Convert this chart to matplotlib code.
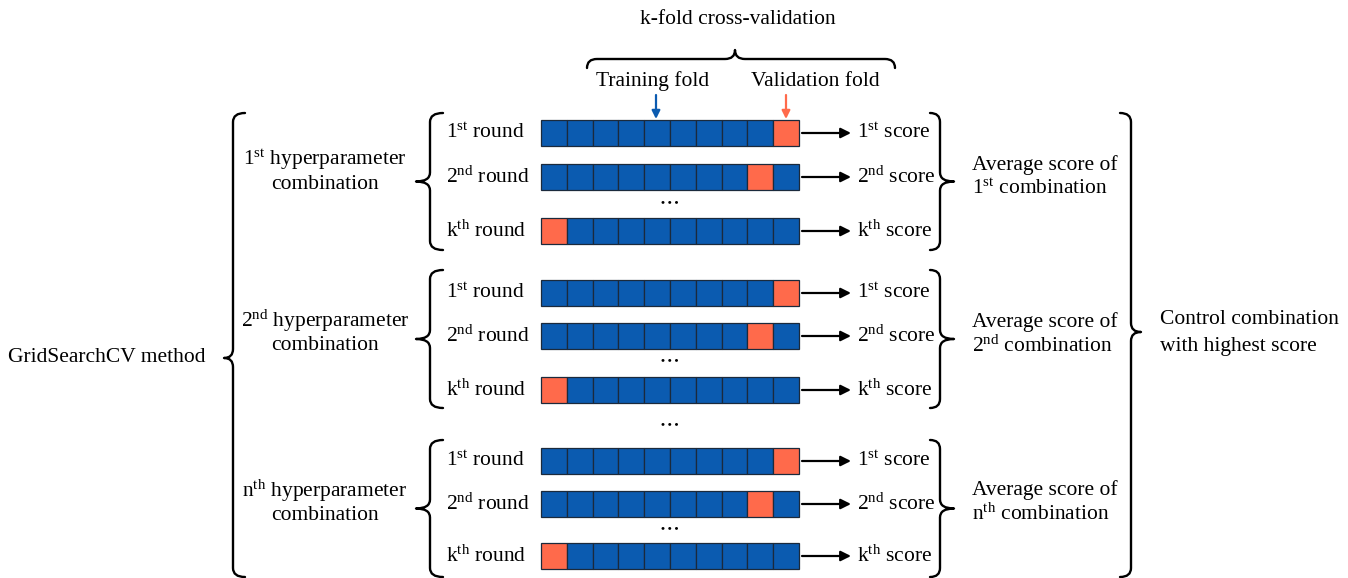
import matplotlib
matplotlib.use('Agg')
import matplotlib.pyplot as plt
from matplotlib.path import Path
from matplotlib.patches import PathPatch, Rectangle

plt.rcParams['font.family'] = ['Liberation Serif', 'DejaVu Serif']
plt.rcParams['mathtext.fontset'] = 'custom'
plt.rcParams['mathtext.rm'] = 'Liberation Serif'
plt.rcParams['mathtext.it'] = 'Liberation Serif:italic'

# data
n_folds = 10
combo_names = [('1', 'st'), ('2', 'nd'), ('n', 'th')]
round_names = [('1', 'st'), ('2', 'nd'), ('k', 'th')]
val_fold = [9, 8, 0]          # index of validation fold in each round
score_names = [('1', 'st'), ('2', 'nd'), ('k', 'th')]

# layout (pixels)
row_y = [[133, 177, 231], [293, 336, 390], [461, 504, 556]]
dots_y = [203, 361, 529]
group_span = [(113, 250), (270, 408), (440, 577)]
hyper_y = [172, 333, 503]
avg_y = [177, 334, 502]
bar_x0, cell_w, bar_h = 541, 25.8, 26

blue = '#0B5BB0'
orange = '#FF6A4B'
fs = 15.5


def sup(base, s):
    return r'$\mathrm{%s}^{\mathrm{%s}}$' % (base, s)


def brace(ax, s0, s1, pos, side, curl=11, tip=10, mid=None, r=9, lw=1.7):
    if mid is None:
        mid = (s0 + s1) / 2
    a = -curl
    b = -curl - tip
    pts = [(s0, 0), (s0, a), (s0 + r, a),
           (mid - r, a), (mid, a), (mid, b),
           (mid, a), (mid + r, a),
           (s1 - r, a), (s1, a), (s1, 0)]
    codes = [Path.MOVETO, Path.CURVE3, Path.CURVE3,
             Path.LINETO, Path.CURVE3, Path.CURVE3,
             Path.CURVE3, Path.CURVE3,
             Path.LINETO, Path.CURVE3, Path.CURVE3]
    if side == 'left':
        xy = [(pos + v, s) for s, v in pts]
    elif side == 'right':
        xy = [(pos - v, s) for s, v in pts]
    else:
        xy = [(s, pos + v) for s, v in pts]
    ax.add_patch(PathPatch(Path(xy, codes), fc='none', ec='black', lw=lw,
                           capstyle='round', joinstyle='round'))


def dots(ax, y):
    ax.text(670, y, '• • •', fontsize=8, fontweight='bold', ha='center', va='center')


fig = plt.figure(figsize=(13.48, 5.78), dpi=100)
ax = fig.add_axes([0, 0, 1, 1])
ax.set_xlim(0, 1348)
ax.set_ylim(578, 0)
ax.axis('off')

# top header
ax.text(738, 20, 'k-fold cross-validation', fontsize=fs, ha='center', va='center')
brace(ax, 587, 895, 68, 'up', curl=9, tip=9, mid=735, r=10)
ax.text(653, 81, 'Training fold', fontsize=fs, ha='center', va='center')
ax.text(815, 81, 'Validation fold', fontsize=fs, ha='center', va='center')
ax.annotate('', xy=(656, 119), xytext=(656, 95),
            arrowprops=dict(arrowstyle='-|>', color=blue, lw=1.6,
                            mutation_scale=12, shrinkA=0, shrinkB=0))
ax.annotate('', xy=(786, 119), xytext=(786, 95),
            arrowprops=dict(arrowstyle='-|>', color=orange, lw=1.6,
                            mutation_scale=12, shrinkA=0, shrinkB=0))

# outer braces
ax.text(205, 357, 'GridSearchCV method', fontsize=fs, ha='right', va='center')
brace(ax, 113, 577, 245, 'left', curl=12, tip=9, mid=358, r=9)
brace(ax, 113, 577, 1120, 'right', curl=11, tip=10, mid=332, r=9)
ax.text(1160, 320, 'Control combination', fontsize=fs, ha='left', va='center')
ax.text(1160, 346, 'with highest score', fontsize=fs, ha='left', va='center')

for g, (cb, cs) in enumerate(combo_names):
    y0, y1 = group_span[g]
    brace(ax, y0, y1, 443, 'left', curl=13, tip=14, r=9)
    brace(ax, y0, y1, 930, 'right', curl=10, tip=14, r=9)
    ax.text(325, hyper_y[g] - 12.5, sup(cb, cs) + ' hyperparameter', fontsize=fs,
            ha='center', va='center')
    ax.text(325, hyper_y[g] + 12.5, 'combination', fontsize=fs,
            ha='center', va='center')
    ax.text(972, avg_y[g] - 12, 'Average score of', fontsize=fs,
            ha='left', va='center')
    ax.text(972, avg_y[g] + 12, sup(cb, cs) + ' combination', fontsize=fs,
            ha='left', va='center')

    for r_i, (rb, rs) in enumerate(round_names):
        y = row_y[g][r_i]
        ax.text(446, y, sup(rb, rs) + ' round', fontsize=fs, ha='left', va='center')
        for k in range(n_folds):
            c = orange if k == val_fold[r_i] else blue
            ax.add_patch(Rectangle((bar_x0 + k * cell_w, y - bar_h / 2), cell_w, bar_h,
                                   fc=c, ec='#1B2A3C', lw=0.9))
        bar_x1 = bar_x0 + n_folds * cell_w
        ax.annotate('', xy=(851, y), xytext=(bar_x1 + 3, y),
                    arrowprops=dict(arrowstyle='-|>', color='black', lw=1.6,
                                    mutation_scale=15, shrinkA=0, shrinkB=0))
        sb, ss = score_names[r_i]
        ax.text(857, y, sup(sb, ss) + ' score', fontsize=fs, ha='left', va='center')
    dots(ax, dots_y[g])

dots(ax, 425)

fig.savefig('out.png', dpi=100)
